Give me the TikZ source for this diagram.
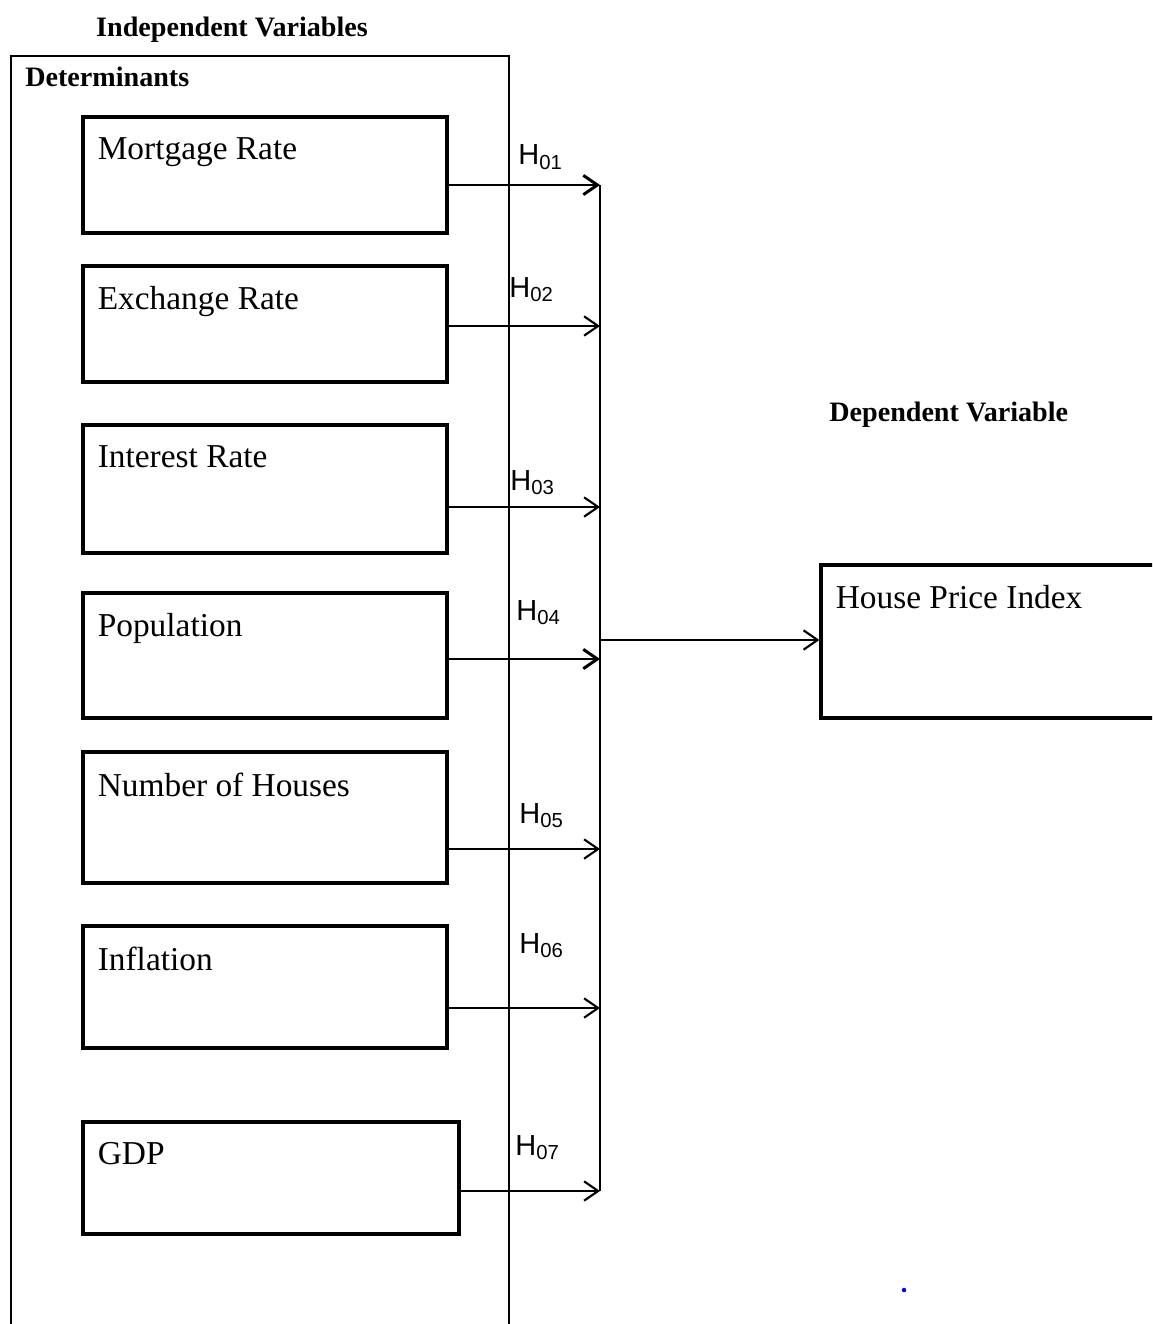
\documentclass[tikz,border=0pt]{standalone}
\usepackage{fontspec}
\setmainfont{Liberation Serif}
\setsansfont{Liberation Sans}
\usetikzlibrary{arrows.meta,positioning}
\tikzset{
  >={Straight Barb[length=8pt,width=11pt]},
  frame/.style={draw,line width=1.2pt,inner sep=0pt},
  box/.style={draw,line width=1.8pt,minimum width=7.28cm,inner sep=0pt},
  boxtext/.style={anchor=north west,inner sep=0pt,xshift=0.32cm,yshift=-0.44cm,font=\fontsize{19}{22}\selectfont},
  head/.style={font=\fontsize{16}{19}\selectfont\bfseries,inner sep=0pt},
  hyp/.style={font=\sffamily\fontsize{16.5}{19}\selectfont,inner sep=0pt,anchor=base west},
  arrow/.style={->,line width=1.2pt},
  thickarr/.style={arrow,line width=1.7pt},
  bus/.style={line width=1.2pt},
}
\begin{document}
\begin{tikzpicture}[x=0.02cm,y=-0.02cm]
\clip (0,0) rectangle (1152,1324);

% headings
\node[head,anchor=base] (indep) at (232,37) {Independent Variables};
\node[frame,anchor=north west,minimum width=9.96cm,minimum height=26cm] (determinants) at (10,55) {};
\node[head,anchor=base west] (detlbl) at (25,87) {Determinants};
\node[head,anchor=base west] (dep) at (829,421) {Dependent Variable};

% determinant boxes
\node[box,minimum height=2.32cm,label={[boxtext]north west:Mortgage Rate}] (mortgage) at (265,175) {};
\node[box,minimum height=2.32cm,label={[boxtext]north west:Exchange Rate}] (exchange) at (265,324) {};
\node[box,minimum height=2.56cm,label={[boxtext]north west:Interest Rate}] (interest) at (265,489) {};
\node[box,minimum height=2.5cm,label={[boxtext]north west:Population}] (population) at (265,655.5) {};
\node[box,minimum height=2.62cm,label={[boxtext]north west:Number of Houses}] (houses) at (265,817.5) {};
\node[box,minimum height=2.44cm,label={[boxtext]north west:Inflation}] (inflation) at (265,987) {};
\node[box,minimum width=7.52cm,minimum height=2.24cm,label={[boxtext]north west:GDP}] (gdp) at (271,1178) {};

% dependent box
\node[box,minimum width=6.98cm,minimum height=3.06cm,label={[boxtext]north west:House Price Index}] (hpi) at (995.5,641.5) {};

% collector line
\coordinate (j1) at (600,185);
\coordinate (j2) at (600,326);
\coordinate (j3) at (600,507);
\coordinate (j4) at (600,659);
\coordinate (j5) at (600,849);
\coordinate (j6) at (600,1008);
\coordinate (j7) at (600,1191);
\coordinate (jm) at (600,640);
\draw[bus] (j1) -- (j7);

\draw[thickarr] (mortgage.east |- j1) -- (j1);
\draw[arrow] (exchange.east |- j2) -- (j2);
\draw[arrow] (interest.east |- j3) -- (j3);
\draw[thickarr] (population.east |- j4) -- (j4);
\draw[arrow] (houses.east |- j5) -- (j5);
\draw[arrow] (inflation.east |- j6) -- (j6);
\draw[arrow] (gdp.east |- j7) -- (j7);
\draw[arrow] (jm) -- (hpi.west |- jm);

% hypotheses
\node[hyp] (h1) at (518,165) {H\textsubscript{01}};
\node[hyp] (h2) at (509,297) {H\textsubscript{02}};
\node[hyp] (h3) at (510,490) {H\textsubscript{03}};
\node[hyp] (h4) at (516,620) {H\textsubscript{04}};
\node[hyp] (h5) at (519,823) {H\textsubscript{05}};
\node[hyp] (h6) at (519,953) {H\textsubscript{06}};
\node[hyp] (h7) at (515,1155) {H\textsubscript{07}};

\fill[blue] (904,1290) circle[radius=0.045cm];
\end{tikzpicture}
\end{document}
